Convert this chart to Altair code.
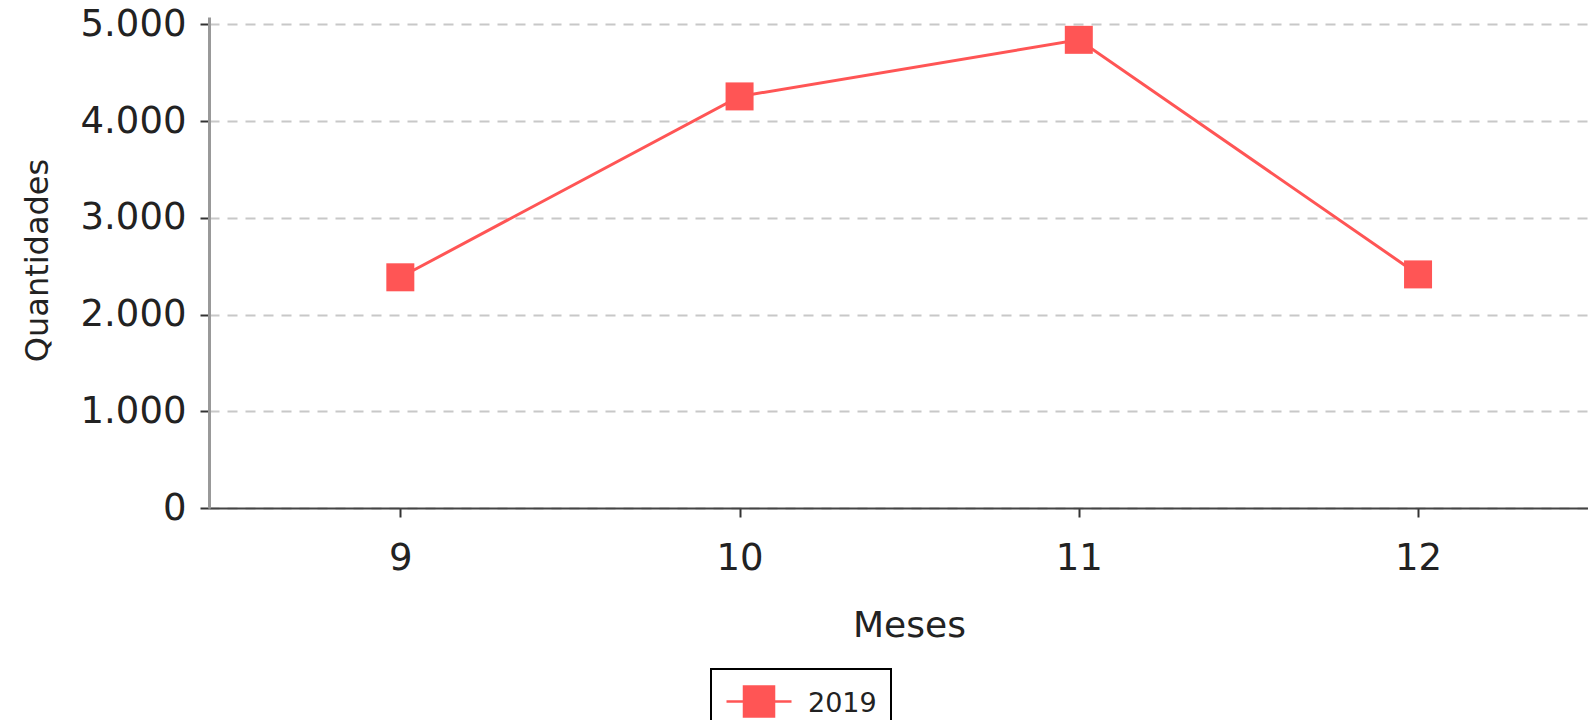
import altair as alt
import pandas as pd

# ---- data ----
meses = [9, 10, 11, 12]
quantidades = [2385, 4255, 4840, 2415]
serie = ["2019", "2019", "2019", "2019"]
x_ticks = [9, 10, 11, 12]
y_ticks = [0, 1000, 2000, 3000, 4000, 5000]

df = pd.DataFrame({"Meses": meses, "Quantidades": quantidades, "Ano": serie})

RED = "#ff5555"
FONT = "DejaVu Sans"

x_enc = alt.X(
    "Meses:Q",
    scale=alt.Scale(domain=[8.436, 12.501], nice=False, zero=False),
    axis=alt.Axis(
        values=x_ticks, format="d", title="Meses", grid=False,
        domainColor="#444444", domainWidth=2,
        tickColor="#333333", tickWidth=2, tickSize=9,
        labelFontSize=37, labelColor="#222222", labelPadding=23, labelFont=FONT,
        titleFontSize=36, titleColor="#222222", titleFont=FONT, titleFontWeight="normal",
        titleX=700, titleY=128, titleBaseline="alphabetic",
    ),
)
y_enc = alt.Y(
    "Quantidades:Q",
    scale=alt.Scale(domain=[0, 5076], nice=False),
    axis=alt.Axis(
        values=y_ticks,
        labelExpr="replace(format(datum.value, ','), ',', '.')",
        title="Quantidades", grid=True,
        gridColor="#c8c8c8", gridWidth=2, gridDash=[10, 8],
        domainColor="#999999", domainWidth=3,
        tickColor="#333333", tickWidth=2, tickSize=9,
        labelFontSize=37, labelColor="#222222", labelPadding=14, labelFont=FONT,
        titleFontSize=32, titleColor="#222222", titleFont=FONT, titleFontWeight="normal",
        titleX=-172, titleY=243, titleBaseline="middle",
    ),
)

line = alt.Chart(df).mark_line(color=RED, strokeWidth=3).encode(x=x_enc, y=y_enc)

points = alt.Chart(df).mark_point(shape="square", filled=True, size=784, opacity=1).encode(
    x=x_enc,
    y=y_enc,
    color=alt.Color(
        "Ano:N",
        scale=alt.Scale(range=[RED]),
        legend=alt.Legend(
            title=None, orient="none", legendX=502, legendY=652,
            symbolType="M-1,-0.37H1.408M-0.352,-0.926H0.76V0.186H-0.352Z",
            symbolSize=2916, symbolStrokeColor=RED, symbolStrokeWidth=2.5,
            symbolFillColor=RED, symbolOpacity=1,
            labelFontSize=27, labelColor="#222222", labelFont=FONT, labelOffset=26,
            labelBaseline="alphabetic",
            padding=14, strokeColor="#000000",
        ),
    ),
)

chart = (
    alt.layer(line, points)
    .properties(
        width=1379, height=491,
        padding={"left": 201, "top": 9, "right": 0, "bottom": 212},
        autosize=alt.AutoSizeParams(type="none"),
        background="white",
    )
    .configure_view(stroke=None)
    .configure_legend(strokeWidth=2)
)

chart.save("out.html", embed_options={"renderer": "svg", "actions": False})
